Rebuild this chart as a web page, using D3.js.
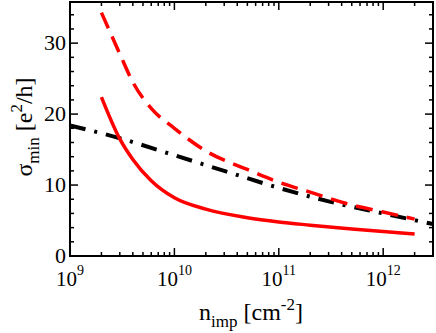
<!DOCTYPE html>
<html>
<head>
<meta charset="utf-8">
<script src="https://cdn.jsdelivr.net/npm/d3@7"></script>
<style>
  body { margin: 0; background: #fff; }
</style>
</head>
<body>
<svg width="436" height="333"></svg>
<script>
// n_imp values (cm^-2) and sigma_min (e^2/h)
let solidN = [2e9, 3e9, 4e9, 6e9, 1e10, 2e10, 5e10, 1e11, 2e11, 5e11, 1e12, 2e12];
let solidS = [22.4, 16.5, 13.6, 10.6, 8.2, 6.6, 5.4, 4.8, 4.35, 3.8, 3.45, 3.1];

let dashN = [2e9, 3e9, 4e9, 6e9, 1e10, 2e10, 5e10, 1e11, 2e11, 5e11, 1e12, 2e12];
let dashS = [34.3, 28.5, 24.5, 20.8, 18.0, 14.8, 12.2, 10.4, 9.0, 7.2, 6.2, 5.2];

let dotN = [1e9, 3e9, 1e10, 3e10, 1e11, 3e11, 1e12, 3e12];
let dotS = [18.4, 16.6, 14.2, 12.0, 9.6, 7.7, 6.0, 4.5];

let xMajor = [9, 10, 11, 12];   // exponents of the labelled decades
let yMajor = [0, 10, 20, 30];

const pLeft = 70, pRight = 433, pTop = 2, pBottom = 256;
const serif = "'Liberation Serif', 'Times New Roman', 'DejaVu Serif', serif";

const svg = d3.select('svg');

const x = d3.scaleLog().domain([1e9, 3e12]).range([pLeft, pRight]);
const y = d3.scaleLinear().domain([0, 35.8]).range([pBottom, pTop]);

// minor ticks: 2..9 in each decade, every 2 on y
let xMinor = [];
for (let e = 9; e <= 12; e++) {
  for (let m = 2; m <= 9; m++) {
    let v = m * Math.pow(10, e);
    if (v <= 3e12) xMinor.push(v);
  }
}
let yMinor = d3.range(0, 36, 2).filter(v => v % 10 != 0);

const ticks = svg.append('g').attr('stroke', '#000').attr('stroke-width', 1.5);

// bottom + top ticks (pointing inward)
xMajor.forEach(function(e) {
  let px = x(Math.pow(10, e));
  ticks.append('line').attr('x1', px).attr('x2', px).attr('y1', pBottom).attr('y2', pBottom - 8);
  ticks.append('line').attr('x1', px).attr('x2', px).attr('y1', pTop).attr('y2', pTop + 8);
});
xMinor.forEach(function(v) {
  let px = x(v);
  ticks.append('line').attr('x1', px).attr('x2', px).attr('y1', pBottom).attr('y2', pBottom - 4);
  ticks.append('line').attr('x1', px).attr('x2', px).attr('y1', pTop).attr('y2', pTop + 4);
});

// left + right ticks
yMajor.forEach(function(v) {
  let py = y(v);
  ticks.append('line').attr('x1', pLeft).attr('x2', pLeft + 8).attr('y1', py).attr('y2', py);
  ticks.append('line').attr('x1', pRight).attr('x2', pRight - 8).attr('y1', py).attr('y2', py);
});
yMinor.forEach(function(v) {
  let py = y(v);
  ticks.append('line').attr('x1', pLeft).attr('x2', pLeft + 4).attr('y1', py).attr('y2', py);
  ticks.append('line').attr('x1', pRight).attr('x2', pRight - 4).attr('y1', py).attr('y2', py);
});

// curves
const line = d3.line()
  .x(d => x(d[0]))
  .y(d => y(d[1]))
  .curve(d3.curveMonotoneX);

const plot = svg.append('g');

plot.append('path')
  .datum(dotN.map((n, i) => [n, dotS[i]]))
  .attr('d', line)
  .attr('fill', 'none')
  .attr('stroke', '#000')
  .attr('stroke-width', 4)
  .attr('stroke-dasharray', '16,9,3,9');

plot.append('path')
  .datum(dashN.map((n, i) => [n, dashS[i]]))
  .attr('d', line)
  .attr('fill', 'none')
  .attr('stroke', '#ff0000')
  .attr('stroke-width', 3.5)
  .attr('stroke-dasharray', '17,9');

plot.append('path')
  .datum(solidN.map((n, i) => [n, solidS[i]]))
  .attr('d', line)
  .attr('fill', 'none')
  .attr('stroke', '#ff0000')
  .attr('stroke-width', 3.5);

// frame
svg.append('rect')
  .attr('x', pLeft).attr('y', pTop)
  .attr('width', pRight - pLeft).attr('height', pBottom - pTop)
  .attr('fill', 'none')
  .attr('stroke', '#000')
  .attr('stroke-width', 2);

// x tick labels 10^e
xMajor.forEach(function(e) {
  let t = svg.append('text')
    .attr('x', x(Math.pow(10, e)))
    .attr('y', 286)
    .attr('text-anchor', 'middle')
    .attr('font-family', serif)
    .attr('font-size', 21);
  t.append('tspan').text('10');
  t.append('tspan').attr('font-size', 14).attr('dy', -11).text(e);
});

// y tick labels
yMajor.forEach(function(v) {
  svg.append('text')
    .attr('x', 66)
    .attr('y', y(v) + 7)
    .attr('text-anchor', 'end')
    .attr('font-family', serif)
    .attr('font-size', 22)
    .text(v);
});

// x title
let xt = svg.append('text')
  .attr('x', 251).attr('y', 320)
  .attr('text-anchor', 'middle')
  .attr('font-family', serif)
  .attr('font-size', 24);
xt.append('tspan').text('n');
xt.append('tspan').attr('font-size', 17).attr('dy', 7).text('imp');
xt.append('tspan').attr('dy', -7).text(' [cm');
xt.append('tspan').attr('font-size', 17).attr('dy', -10).text('-2');
xt.append('tspan').attr('dy', 10).text(']');

// y title
let yt = svg.append('text')
  .attr('transform', 'translate(32,127) rotate(-90)')
  .attr('text-anchor', 'middle')
  .attr('font-family', serif)
  .attr('font-size', 24);
yt.append('tspan').text('σ');
yt.append('tspan').attr('font-size', 17).attr('dy', 7).text('min');
yt.append('tspan').attr('dy', -7).text(' [e');
yt.append('tspan').attr('font-size', 17).attr('dy', -10).text('2');
yt.append('tspan').attr('dy', 10).text('/h]');
</script>
</body>
</html>
